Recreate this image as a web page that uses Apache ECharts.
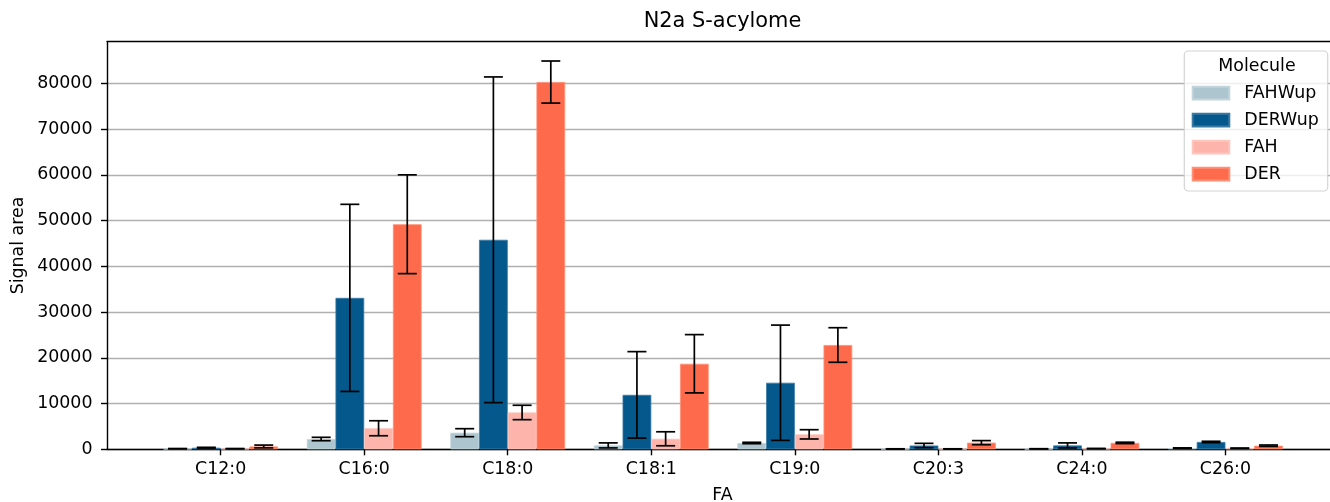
<!DOCTYPE html>
<html>
<head>
<meta charset="utf-8">
<title>N2a S-acylome</title>
<script src="https://cdn.jsdelivr.net/npm/echarts@6/dist/echarts.min.js"></script>
<style>
  html, body { margin: 0; padding: 0; background: #ffffff; }
  #chart { width: 1330px; height: 502px; }
</style>
</head>
<body>
<div id="chart"></div>
<script>
// Fatty acid species on the x axis
const categories = ['C12:0', 'C16:0', 'C18:0', 'C18:1', 'C19:0', 'C20:3', 'C24:0', 'C26:0'];
const molecules = ['FAHWup', 'DERWup', 'FAH', 'DER'];

// Mean signal area and error (± half-range) per molecule
const fahwupMean = [130, 2250, 3630, 850, 1380, 80, 100, 250];
const fahwupErr  = [40, 370, 875, 550, 150, 30, 30, 60];
const derwupMean = [350, 33100, 45800, 11900, 14550, 825, 850, 1600];
const derwupErr  = [80, 20450, 35600, 9450, 12600, 475, 550, 150];
const fahMean    = [130, 4600, 8050, 2300, 3270, 80, 150, 220];
const fahErr     = [40, 1640, 1575, 1530, 1015, 30, 40, 50];
const derMean    = [620, 49200, 80280, 18700, 22800, 1450, 1400, 790];
const derErr     = [300, 10800, 4600, 6370, 3780, 450, 150, 150];

// Y axis ticks
const yTicks = [0, 10000, 20000, 30000, 40000, 50000, 60000, 70000, 80000];
const yMax = 89100;

const means = [fahwupMean, derwupMean, fahMean, derMean];
const errs = [fahwupErr, derwupErr, fahErr, derErr];
const colors = ['#adc5cf', '#04588c', '#fcb4ab', '#fe6b4c'];
const edgeColors = ['#c3d5dc', '#3b7aa3', '#fdc6bf', '#ff8f75'];

const FONT = 'DejaVu Sans';
const FS = 17.4;

const frameTop = 41.7;
const frameBottom = 502 - 449.3;

function errorRenderer(slot) {
  return function (params, api) {
    const idx = api.value(0);
    const m = api.value(1);
    const e = api.value(2);
    const band = api.size([1, 0])[0];
    const center = api.coord([idx, m]);
    const x = center[0] + (slot - 1.5) * 0.2 * band;
    const yTop = api.coord([idx, m + e])[1];
    const yBot = api.coord([idx, Math.max(m - e, 0)])[1];
    const cap = 9.5;
    const style = { stroke: '#000000', lineWidth: 1.7 };
    return {
      type: 'group',
      children: [
        { type: 'line', shape: { x1: x, y1: yTop, x2: x, y2: yBot }, style: style },
        { type: 'line', shape: { x1: x - cap, y1: yTop, x2: x + cap, y2: yTop }, style: style },
        { type: 'line', shape: { x1: x - cap, y1: yBot, x2: x + cap, y2: yBot }, style: style }
      ]
    };
  };
}

const barSeries = molecules.map((name, k) => ({
  name: name,
  type: 'bar',
  xAxisIndex: 2,
  yAxisIndex: 1,
  data: means[k],
  barGap: '0%',
  barCategoryGap: '20%',
  itemStyle: { color: colors[k], borderColor: edgeColors[k], borderWidth: 0.8 },
  emphasis: { disabled: true },
  z: 2
}));

const errSeries = molecules.map((name, k) => ({
  name: name + ' error',
  type: 'custom',
  xAxisIndex: 2,
  yAxisIndex: 1,
  renderItem: errorRenderer(k),
  dimensions: ['cat', 'mean', 'err'],
  encode: { x: 0, y: 1 },
  data: categories.map((c, i) => [i, means[k][i], errs[k][i]]),
  silent: true,
  z: 4
}));

const chart = echarts.init(document.getElementById('chart'), null, { renderer: 'canvas' });

chart.setOption({
  animation: false,
  backgroundColor: '#ffffff',
  textStyle: { fontFamily: FONT },
  grid: [
    { left: 107, right: -9, top: frameTop, bottom: frameBottom },
    { left: 148.9, width: 1148.3, top: frameTop, bottom: frameBottom }
  ],
  xAxis: [
    {
      gridIndex: 0, type: 'value', min: 0, max: 1, position: 'bottom',
      axisLine: { show: true, lineStyle: { color: '#000000', width: 1.4 } },
      axisTick: { show: false }, axisLabel: { show: false }, splitLine: { show: false }
    },
    {
      gridIndex: 0, type: 'value', min: 0, max: 1, position: 'top',
      axisLine: { show: true, lineStyle: { color: '#000000', width: 1.4 } },
      axisTick: { show: false }, axisLabel: { show: false }, splitLine: { show: false }
    },
    {
      gridIndex: 1, type: 'category', data: categories, position: 'bottom',
      axisLine: { show: false },
      axisTick: { show: true, alignWithLabel: true, length: 6, lineStyle: { color: '#000000', width: 1.4 } },
      axisLabel: { color: '#000000', fontSize: FS, fontFamily: FONT, margin: 12 },
      splitLine: { show: false }
    }
  ],
  yAxis: [
    {
      gridIndex: 0, type: 'value', min: 0, max: yMax, interval: 10000,
      axisLine: { show: true, lineStyle: { color: '#000000', width: 1.4 } },
      axisTick: { show: true, length: 6, lineStyle: { color: '#000000', width: 1.4 }, customValues: yTicks },
      axisLabel: {
        color: '#000000', fontSize: FS, fontFamily: FONT, margin: 14.5,
        customValues: yTicks,
        formatter: (v) => String(v)
      },
      splitLine: { show: true, lineStyle: { color: '#b0b0b0', width: 1.4 } }
    },
    {
      gridIndex: 1, type: 'value', min: 0, max: yMax, show: false,
      splitLine: { show: false }
    }
  ],
  legend: {
    data: molecules,
    orient: 'vertical',
    left: 1191.7,
    top: 84.6,
    padding: 0,
    icon: 'rect',
    itemWidth: 36.6,
    itemHeight: 12.6,
    itemGap: 10,
    selectedMode: false,
    textStyle: { color: '#000000', fontSize: FS, fontFamily: FONT, padding: [0, 0, 0, 10] },
    z: 10
  },
  graphic: [
    {
      type: 'text', z: 10,
      x: 722.5, y: 22,
      style: { text: 'N2a S-acylome', fill: '#000000', font: '20.9px "DejaVu Sans"', textAlign: 'center', textVerticalAlign: 'middle' }
    },
    {
      type: 'text', z: 10,
      x: 18.3, y: 245.5, rotation: Math.PI / 2,
      style: { text: 'Signal area', fill: '#000000', font: FS + 'px "DejaVu Sans"', textAlign: 'center', textVerticalAlign: 'middle' }
    },
    {
      type: 'text', z: 10,
      x: 722.5, y: 495,
      style: { text: 'FA', fill: '#000000', font: FS + 'px "DejaVu Sans"', textAlign: 'center', textVerticalAlign: 'middle' }
    },
    {
      type: 'rect', z: 8,
      shape: { x: 1184.3, y: 51, width: 143.4, height: 140, r: 4 },
      style: { fill: 'rgba(255,255,255,0.8)', stroke: '#d4d4d4', lineWidth: 1.2 }
    },
    {
      type: 'text', z: 9,
      x: 1257, y: 66,
      style: { text: 'Molecule', fill: '#000000', font: FS + 'px "DejaVu Sans"', textAlign: 'center', textVerticalAlign: 'middle' }
    }
  ],
  series: barSeries.concat(errSeries)
});
</script>
</body>
</html>
